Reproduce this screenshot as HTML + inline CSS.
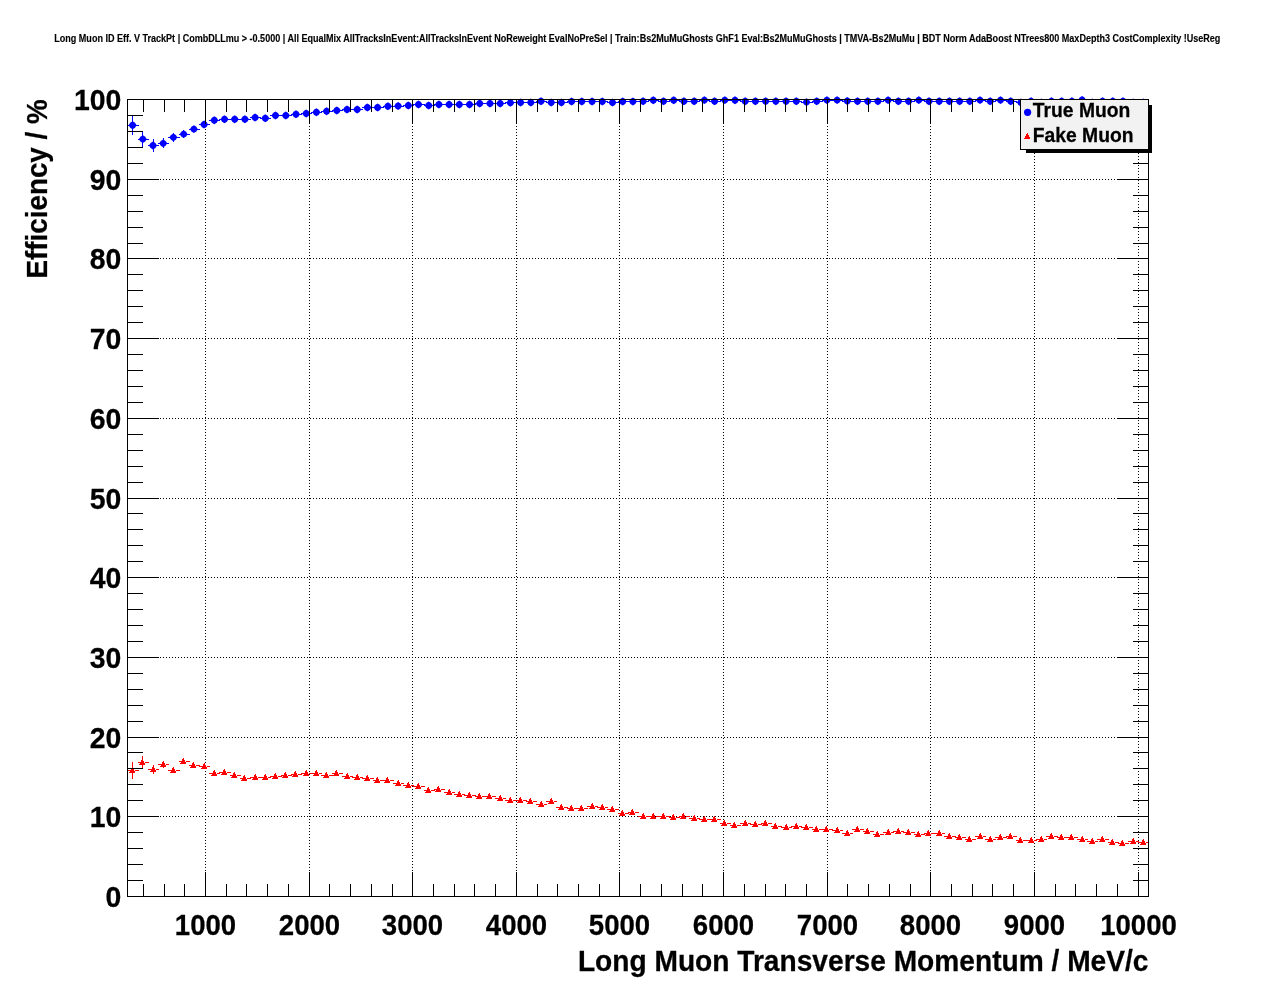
<!DOCTYPE html>
<html lang="en"><head><meta charset="utf-8"><title>Long Muon ID Eff. V TrackPt</title>
<style>
html,body{margin:0;padding:0;background:#fff;}
body{width:1276px;height:996px;overflow:hidden;}
svg{display:block;font-family:"Liberation Sans",sans-serif;font-weight:bold;fill:#000;}
text{stroke:#000;stroke-width:0.25px;}
.top{stroke-width:0.12px;}
.ax{stroke:#000;stroke-width:1;shape-rendering:crispEdges;fill:none;}
.gr{stroke:#000;stroke-width:1;stroke-dasharray:1 2;shape-rendering:crispEdges;fill:none;}
.be{stroke:#00f;stroke-width:1;shape-rendering:crispEdges;}
.re{stroke:#f00;stroke-width:1;shape-rendering:crispEdges;}
.bm{fill:#00f;}
.rm{fill:#f00;}
.lab{font-size:27.6px;}
.laby{font-size:28.4px;}
.ttl{font-size:28.15px;}
.ttl2{font-size:27.8px;}
.leg{font-size:19.3px;}
.top{font-size:9.02px;}
</style></head><body>
<svg width="1276" height="996" viewBox="0 0 1276 996">
<rect x="0" y="0" width="1276" height="996" fill="#fff"/>
<text class="top" transform="translate(54.3,42.1) scale(1,1.14)" textLength="1166" lengthAdjust="spacingAndGlyphs">Long Muon ID Eff. V TrackPt | CombDLLmu &gt; -0.5000 | All EqualMix AllTracksInEvent:AllTracksInEvent NoReweight EvalNoPreSel | Train:Bs2MuMuGhosts GhF1 Eval:Bs2MuMuGhosts | TMVA-Bs2MuMu | BDT Norm AdaBoost NTrees800 MaxDepth3 CostComplexity !UseReg</text>
<g class="gr">
<line x1="205.5" y1="99" x2="205.5" y2="897"/>
<line x1="309.5" y1="99" x2="309.5" y2="897"/>
<line x1="412.5" y1="99" x2="412.5" y2="897"/>
<line x1="516.5" y1="99" x2="516.5" y2="897"/>
<line x1="619.5" y1="99" x2="619.5" y2="897"/>
<line x1="723.5" y1="99" x2="723.5" y2="897"/>
<line x1="827.5" y1="99" x2="827.5" y2="897"/>
<line x1="930.5" y1="99" x2="930.5" y2="897"/>
<line x1="1034.5" y1="99" x2="1034.5" y2="897"/>
<line x1="1138.5" y1="99" x2="1138.5" y2="897"/>
<line x1="127" y1="816.5" x2="1149" y2="816.5"/>
<line x1="127" y1="737.5" x2="1149" y2="737.5"/>
<line x1="127" y1="657.5" x2="1149" y2="657.5"/>
<line x1="127" y1="577.5" x2="1149" y2="577.5"/>
<line x1="127" y1="498.5" x2="1149" y2="498.5"/>
<line x1="127" y1="418.5" x2="1149" y2="418.5"/>
<line x1="127" y1="338.5" x2="1149" y2="338.5"/>
<line x1="127" y1="258.5" x2="1149" y2="258.5"/>
<line x1="127" y1="179.5" x2="1149" y2="179.5"/>
</g>
<g class="be">
<line x1="128" y1="125.5" x2="139" y2="125.5"/>
<line x1="132.5" y1="116" x2="132.5" y2="135"/>
<line x1="138" y1="139.5" x2="149" y2="139.5"/>
<line x1="142.5" y1="131" x2="142.5" y2="147"/>
<line x1="148" y1="145.5" x2="159" y2="145.5"/>
<line x1="153.5" y1="139" x2="153.5" y2="152"/>
<line x1="158" y1="143.5" x2="169" y2="143.5"/>
<line x1="163.5" y1="138" x2="163.5" y2="148"/>
<line x1="168" y1="137.5" x2="180" y2="137.5"/>
<line x1="173.5" y1="133" x2="173.5" y2="142"/>
<line x1="179" y1="134.5" x2="190" y2="134.5"/>
<line x1="183.5" y1="130" x2="183.5" y2="138"/>
<line x1="189" y1="129.5" x2="200" y2="129.5"/>
<line x1="199" y1="124.5" x2="210" y2="124.5"/>
<line x1="209" y1="120.5" x2="220" y2="120.5"/>
<line x1="219" y1="119.5" x2="231" y2="119.5"/>
<line x1="230" y1="119.5" x2="241" y2="119.5"/>
<line x1="240" y1="119.5" x2="251" y2="119.5"/>
<line x1="250" y1="117.5" x2="261" y2="117.5"/>
<line x1="260" y1="118.5" x2="271" y2="118.5"/>
<line x1="270" y1="115.5" x2="282" y2="115.5"/>
<line x1="281" y1="115.5" x2="292" y2="115.5"/>
<line x1="291" y1="114.5" x2="302" y2="114.5"/>
<line x1="301" y1="113.5" x2="312" y2="113.5"/>
<line x1="311" y1="112.5" x2="322" y2="112.5"/>
<line x1="321" y1="111.5" x2="333" y2="111.5"/>
<line x1="332" y1="110.5" x2="343" y2="110.5"/>
<line x1="342" y1="109.5" x2="353" y2="109.5"/>
<line x1="352" y1="109.5" x2="363" y2="109.5"/>
<line x1="362" y1="107.5" x2="374" y2="107.5"/>
<line x1="373" y1="107.5" x2="384" y2="107.5"/>
<line x1="383" y1="106.5" x2="394" y2="106.5"/>
<line x1="393" y1="106.5" x2="404" y2="106.5"/>
<line x1="403" y1="105.5" x2="414" y2="105.5"/>
<line x1="413" y1="104.5" x2="425" y2="104.5"/>
<line x1="424" y1="105.5" x2="435" y2="105.5"/>
<line x1="434" y1="104.5" x2="445" y2="104.5"/>
<line x1="444" y1="104.5" x2="455" y2="104.5"/>
<line x1="454" y1="104.5" x2="465" y2="104.5"/>
<line x1="464" y1="104.5" x2="476" y2="104.5"/>
<line x1="475" y1="103.5" x2="486" y2="103.5"/>
<line x1="485" y1="103.5" x2="496" y2="103.5"/>
<line x1="495" y1="103.5" x2="506" y2="103.5"/>
<line x1="505" y1="102.5" x2="516" y2="102.5"/>
<line x1="515" y1="102.5" x2="527" y2="102.5"/>
<line x1="526" y1="102.5" x2="537" y2="102.5"/>
<line x1="536" y1="101.5" x2="547" y2="101.5"/>
<line x1="546" y1="102.5" x2="557" y2="102.5"/>
<line x1="556" y1="102.5" x2="568" y2="102.5"/>
<line x1="567" y1="101.5" x2="578" y2="101.5"/>
<line x1="577" y1="101.5" x2="588" y2="101.5"/>
<line x1="587" y1="101.5" x2="598" y2="101.5"/>
<line x1="597" y1="101.5" x2="608" y2="101.5"/>
<line x1="607" y1="102.5" x2="619" y2="102.5"/>
<line x1="618" y1="101.5" x2="629" y2="101.5"/>
<line x1="628" y1="101.5" x2="639" y2="101.5"/>
<line x1="638" y1="101.5" x2="649" y2="101.5"/>
<line x1="648" y1="100.5" x2="659" y2="100.5"/>
<line x1="658" y1="101.5" x2="670" y2="101.5"/>
<line x1="669" y1="100.5" x2="680" y2="100.5"/>
<line x1="679" y1="101.5" x2="690" y2="101.5"/>
<line x1="689" y1="101.5" x2="700" y2="101.5"/>
<line x1="699" y1="100.5" x2="710" y2="100.5"/>
<line x1="709" y1="101.5" x2="721" y2="101.5"/>
<line x1="720" y1="100.5" x2="731" y2="100.5"/>
<line x1="730" y1="100.5" x2="741" y2="100.5"/>
<line x1="740" y1="101.5" x2="751" y2="101.5"/>
<line x1="750" y1="101.5" x2="762" y2="101.5"/>
<line x1="761" y1="101.5" x2="772" y2="101.5"/>
<line x1="771" y1="101.5" x2="782" y2="101.5"/>
<line x1="781" y1="101.5" x2="792" y2="101.5"/>
<line x1="791" y1="101.5" x2="802" y2="101.5"/>
<line x1="801" y1="102.5" x2="813" y2="102.5"/>
<line x1="812" y1="101.5" x2="823" y2="101.5"/>
<line x1="822" y1="100.5" x2="833" y2="100.5"/>
<line x1="832" y1="100.5" x2="843" y2="100.5"/>
<line x1="842" y1="101.5" x2="853" y2="101.5"/>
<line x1="852" y1="101.5" x2="864" y2="101.5"/>
<line x1="863" y1="101.5" x2="874" y2="101.5"/>
<line x1="873" y1="101.5" x2="884" y2="101.5"/>
<line x1="883" y1="100.5" x2="894" y2="100.5"/>
<line x1="893" y1="101.5" x2="904" y2="101.5"/>
<line x1="903" y1="101.5" x2="915" y2="101.5"/>
<line x1="914" y1="100.5" x2="925" y2="100.5"/>
<line x1="924" y1="101.5" x2="935" y2="101.5"/>
<line x1="934" y1="101.5" x2="945" y2="101.5"/>
<line x1="944" y1="101.5" x2="956" y2="101.5"/>
<line x1="955" y1="101.5" x2="966" y2="101.5"/>
<line x1="965" y1="101.5" x2="976" y2="101.5"/>
<line x1="975" y1="100.5" x2="986" y2="100.5"/>
<line x1="985" y1="101.5" x2="996" y2="101.5"/>
<line x1="995" y1="100.5" x2="1007" y2="100.5"/>
<line x1="1006" y1="101.5" x2="1017" y2="101.5"/>
<line x1="1016" y1="102.5" x2="1027" y2="102.5"/>
<line x1="1026" y1="101.5" x2="1037" y2="101.5"/>
<line x1="1036" y1="102.5" x2="1047" y2="102.5"/>
<line x1="1046" y1="101.5" x2="1058" y2="101.5"/>
<line x1="1057" y1="101.5" x2="1068" y2="101.5"/>
<line x1="1067" y1="101.5" x2="1078" y2="101.5"/>
<line x1="1077" y1="100.5" x2="1088" y2="100.5"/>
<line x1="1087" y1="102.5" x2="1098" y2="102.5"/>
<line x1="1097" y1="101.5" x2="1109" y2="101.5"/>
<line x1="1108" y1="101.5" x2="1119" y2="101.5"/>
<line x1="1118" y1="101.5" x2="1129" y2="101.5"/>
<line x1="1128" y1="102.5" x2="1139" y2="102.5"/>
<line x1="1138" y1="102.5" x2="1149" y2="102.5"/>
</g>
<path class="bm" d="M132.6 121.3l2.45 1.50 1.50 2.45 -1.50 2.45 -2.45 1.50 -2.45 -1.50 -1.50 -2.45 1.50 -2.45zM142.8 135.2l2.45 1.50 1.50 2.45 -1.50 2.45 -2.45 1.50 -2.45 -1.50 -1.50 -2.45 1.50 -2.45zM153.0 141.5l2.45 1.50 1.50 2.45 -1.50 2.45 -2.45 1.50 -2.45 -1.50 -1.50 -2.45 1.50 -2.45zM163.2 139.4l2.45 1.50 1.50 2.45 -1.50 2.45 -2.45 1.50 -2.45 -1.50 -1.50 -2.45 1.50 -2.45zM173.4 133.4l2.45 1.50 1.50 2.45 -1.50 2.45 -2.45 1.50 -2.45 -1.50 -1.50 -2.45 1.50 -2.45zM183.7 130.2l2.45 1.50 1.50 2.45 -1.50 2.45 -2.45 1.50 -2.45 -1.50 -1.50 -2.45 1.50 -2.45zM193.9 125.2l2.45 1.50 1.50 2.45 -1.50 2.45 -2.45 1.50 -2.45 -1.50 -1.50 -2.45 1.50 -2.45zM204.1 120.6l2.45 1.50 1.50 2.45 -1.50 2.45 -2.45 1.50 -2.45 -1.50 -1.50 -2.45 1.50 -2.45zM214.3 116.3l2.45 1.50 1.50 2.45 -1.50 2.45 -2.45 1.50 -2.45 -1.50 -1.50 -2.45 1.50 -2.45zM224.5 115.3l2.45 1.50 1.50 2.45 -1.50 2.45 -2.45 1.50 -2.45 -1.50 -1.50 -2.45 1.50 -2.45zM234.7 115.3l2.45 1.50 1.50 2.45 -1.50 2.45 -2.45 1.50 -2.45 -1.50 -1.50 -2.45 1.50 -2.45zM244.9 115.3l2.45 1.50 1.50 2.45 -1.50 2.45 -2.45 1.50 -2.45 -1.50 -1.50 -2.45 1.50 -2.45zM255.1 113.6l2.45 1.50 1.50 2.45 -1.50 2.45 -2.45 1.50 -2.45 -1.50 -1.50 -2.45 1.50 -2.45zM265.3 114.3l2.45 1.50 1.50 2.45 -1.50 2.45 -2.45 1.50 -2.45 -1.50 -1.50 -2.45 1.50 -2.45zM275.5 111.5l2.45 1.50 1.50 2.45 -1.50 2.45 -2.45 1.50 -2.45 -1.50 -1.50 -2.45 1.50 -2.45zM285.8 111.5l2.45 1.50 1.50 2.45 -1.50 2.45 -2.45 1.50 -2.45 -1.50 -1.50 -2.45 1.50 -2.45zM296.0 110.3l2.45 1.50 1.50 2.45 -1.50 2.45 -2.45 1.50 -2.45 -1.50 -1.50 -2.45 1.50 -2.45zM306.2 109.5l2.45 1.50 1.50 2.45 -1.50 2.45 -2.45 1.50 -2.45 -1.50 -1.50 -2.45 1.50 -2.45zM316.4 108.3l2.45 1.50 1.50 2.45 -1.50 2.45 -2.45 1.50 -2.45 -1.50 -1.50 -2.45 1.50 -2.45zM326.6 107.3l2.45 1.50 1.50 2.45 -1.50 2.45 -2.45 1.50 -2.45 -1.50 -1.50 -2.45 1.50 -2.45zM336.8 106.5l2.45 1.50 1.50 2.45 -1.50 2.45 -2.45 1.50 -2.45 -1.50 -1.50 -2.45 1.50 -2.45zM347.0 105.5l2.45 1.50 1.50 2.45 -1.50 2.45 -2.45 1.50 -2.45 -1.50 -1.50 -2.45 1.50 -2.45zM357.2 105.5l2.45 1.50 1.50 2.45 -1.50 2.45 -2.45 1.50 -2.45 -1.50 -1.50 -2.45 1.50 -2.45zM367.4 103.5l2.45 1.50 1.50 2.45 -1.50 2.45 -2.45 1.50 -2.45 -1.50 -1.50 -2.45 1.50 -2.45zM377.6 103.5l2.45 1.50 1.50 2.45 -1.50 2.45 -2.45 1.50 -2.45 -1.50 -1.50 -2.45 1.50 -2.45zM387.9 102.3l2.45 1.50 1.50 2.45 -1.50 2.45 -2.45 1.50 -2.45 -1.50 -1.50 -2.45 1.50 -2.45zM398.1 102.1l2.45 1.50 1.50 2.45 -1.50 2.45 -2.45 1.50 -2.45 -1.50 -1.50 -2.45 1.50 -2.45zM408.3 101.5l2.45 1.50 1.50 2.45 -1.50 2.45 -2.45 1.50 -2.45 -1.50 -1.50 -2.45 1.50 -2.45zM418.5 100.6l2.45 1.50 1.50 2.45 -1.50 2.45 -2.45 1.50 -2.45 -1.50 -1.50 -2.45 1.50 -2.45zM428.7 101.5l2.45 1.50 1.50 2.45 -1.50 2.45 -2.45 1.50 -2.45 -1.50 -1.50 -2.45 1.50 -2.45zM438.9 100.5l2.45 1.50 1.50 2.45 -1.50 2.45 -2.45 1.50 -2.45 -1.50 -1.50 -2.45 1.50 -2.45zM449.1 100.5l2.45 1.50 1.50 2.45 -1.50 2.45 -2.45 1.50 -2.45 -1.50 -1.50 -2.45 1.50 -2.45zM459.3 100.5l2.45 1.50 1.50 2.45 -1.50 2.45 -2.45 1.50 -2.45 -1.50 -1.50 -2.45 1.50 -2.45zM469.5 100.5l2.45 1.50 1.50 2.45 -1.50 2.45 -2.45 1.50 -2.45 -1.50 -1.50 -2.45 1.50 -2.45zM479.7 99.6l2.45 1.50 1.50 2.45 -1.50 2.45 -2.45 1.50 -2.45 -1.50 -1.50 -2.45 1.50 -2.45zM490.0 99.6l2.45 1.50 1.50 2.45 -1.50 2.45 -2.45 1.50 -2.45 -1.50 -1.50 -2.45 1.50 -2.45zM500.2 99.5l2.45 1.50 1.50 2.45 -1.50 2.45 -2.45 1.50 -2.45 -1.50 -1.50 -2.45 1.50 -2.45zM510.4 98.8l2.45 1.50 1.50 2.45 -1.50 2.45 -2.45 1.50 -2.45 -1.50 -1.50 -2.45 1.50 -2.45zM520.6 98.5l2.45 1.50 1.50 2.45 -1.50 2.45 -2.45 1.50 -2.45 -1.50 -1.50 -2.45 1.50 -2.45zM530.8 98.5l2.45 1.50 1.50 2.45 -1.50 2.45 -2.45 1.50 -2.45 -1.50 -1.50 -2.45 1.50 -2.45zM541.0 97.3l2.45 1.50 1.50 2.45 -1.50 2.45 -2.45 1.50 -2.45 -1.50 -1.50 -2.45 1.50 -2.45zM551.2 98.5l2.45 1.50 1.50 2.45 -1.50 2.45 -2.45 1.50 -2.45 -1.50 -1.50 -2.45 1.50 -2.45zM561.4 98.5l2.45 1.50 1.50 2.45 -1.50 2.45 -2.45 1.50 -2.45 -1.50 -1.50 -2.45 1.50 -2.45zM571.6 97.5l2.45 1.50 1.50 2.45 -1.50 2.45 -2.45 1.50 -2.45 -1.50 -1.50 -2.45 1.50 -2.45zM581.8 97.5l2.45 1.50 1.50 2.45 -1.50 2.45 -2.45 1.50 -2.45 -1.50 -1.50 -2.45 1.50 -2.45zM592.1 97.5l2.45 1.50 1.50 2.45 -1.50 2.45 -2.45 1.50 -2.45 -1.50 -1.50 -2.45 1.50 -2.45zM602.3 97.5l2.45 1.50 1.50 2.45 -1.50 2.45 -2.45 1.50 -2.45 -1.50 -1.50 -2.45 1.50 -2.45zM612.5 98.5l2.45 1.50 1.50 2.45 -1.50 2.45 -2.45 1.50 -2.45 -1.50 -1.50 -2.45 1.50 -2.45zM622.7 97.5l2.45 1.50 1.50 2.45 -1.50 2.45 -2.45 1.50 -2.45 -1.50 -1.50 -2.45 1.50 -2.45zM632.9 97.5l2.45 1.50 1.50 2.45 -1.50 2.45 -2.45 1.50 -2.45 -1.50 -1.50 -2.45 1.50 -2.45zM643.1 97.3l2.45 1.50 1.50 2.45 -1.50 2.45 -2.45 1.50 -2.45 -1.50 -1.50 -2.45 1.50 -2.45zM653.3 96.3l2.45 1.50 1.50 2.45 -1.50 2.45 -2.45 1.50 -2.45 -1.50 -1.50 -2.45 1.50 -2.45zM663.5 97.3l2.45 1.50 1.50 2.45 -1.50 2.45 -2.45 1.50 -2.45 -1.50 -1.50 -2.45 1.50 -2.45zM673.7 96.3l2.45 1.50 1.50 2.45 -1.50 2.45 -2.45 1.50 -2.45 -1.50 -1.50 -2.45 1.50 -2.45zM683.9 97.3l2.45 1.50 1.50 2.45 -1.50 2.45 -2.45 1.50 -2.45 -1.50 -1.50 -2.45 1.50 -2.45zM694.2 97.3l2.45 1.50 1.50 2.45 -1.50 2.45 -2.45 1.50 -2.45 -1.50 -1.50 -2.45 1.50 -2.45zM704.4 96.2l2.45 1.50 1.50 2.45 -1.50 2.45 -2.45 1.50 -2.45 -1.50 -1.50 -2.45 1.50 -2.45zM714.6 97.3l2.45 1.50 1.50 2.45 -1.50 2.45 -2.45 1.50 -2.45 -1.50 -1.50 -2.45 1.50 -2.45zM724.8 96.2l2.45 1.50 1.50 2.45 -1.50 2.45 -2.45 1.50 -2.45 -1.50 -1.50 -2.45 1.50 -2.45zM735.0 96.3l2.45 1.50 1.50 2.45 -1.50 2.45 -2.45 1.50 -2.45 -1.50 -1.50 -2.45 1.50 -2.45zM745.2 97.3l2.45 1.50 1.50 2.45 -1.50 2.45 -2.45 1.50 -2.45 -1.50 -1.50 -2.45 1.50 -2.45zM755.4 97.3l2.45 1.50 1.50 2.45 -1.50 2.45 -2.45 1.50 -2.45 -1.50 -1.50 -2.45 1.50 -2.45zM765.6 97.3l2.45 1.50 1.50 2.45 -1.50 2.45 -2.45 1.50 -2.45 -1.50 -1.50 -2.45 1.50 -2.45zM775.8 97.3l2.45 1.50 1.50 2.45 -1.50 2.45 -2.45 1.50 -2.45 -1.50 -1.50 -2.45 1.50 -2.45zM786.0 97.3l2.45 1.50 1.50 2.45 -1.50 2.45 -2.45 1.50 -2.45 -1.50 -1.50 -2.45 1.50 -2.45zM796.3 97.3l2.45 1.50 1.50 2.45 -1.50 2.45 -2.45 1.50 -2.45 -1.50 -1.50 -2.45 1.50 -2.45zM806.5 98.2l2.45 1.50 1.50 2.45 -1.50 2.45 -2.45 1.50 -2.45 -1.50 -1.50 -2.45 1.50 -2.45zM816.7 97.3l2.45 1.50 1.50 2.45 -1.50 2.45 -2.45 1.50 -2.45 -1.50 -1.50 -2.45 1.50 -2.45zM826.9 96.2l2.45 1.50 1.50 2.45 -1.50 2.45 -2.45 1.50 -2.45 -1.50 -1.50 -2.45 1.50 -2.45zM837.1 96.2l2.45 1.50 1.50 2.45 -1.50 2.45 -2.45 1.50 -2.45 -1.50 -1.50 -2.45 1.50 -2.45zM847.3 97.0l2.45 1.50 1.50 2.45 -1.50 2.45 -2.45 1.50 -2.45 -1.50 -1.50 -2.45 1.50 -2.45zM857.5 97.3l2.45 1.50 1.50 2.45 -1.50 2.45 -2.45 1.50 -2.45 -1.50 -1.50 -2.45 1.50 -2.45zM867.7 97.3l2.45 1.50 1.50 2.45 -1.50 2.45 -2.45 1.50 -2.45 -1.50 -1.50 -2.45 1.50 -2.45zM877.9 97.3l2.45 1.50 1.50 2.45 -1.50 2.45 -2.45 1.50 -2.45 -1.50 -1.50 -2.45 1.50 -2.45zM888.1 96.2l2.45 1.50 1.50 2.45 -1.50 2.45 -2.45 1.50 -2.45 -1.50 -1.50 -2.45 1.50 -2.45zM898.4 97.3l2.45 1.50 1.50 2.45 -1.50 2.45 -2.45 1.50 -2.45 -1.50 -1.50 -2.45 1.50 -2.45zM908.6 97.3l2.45 1.50 1.50 2.45 -1.50 2.45 -2.45 1.50 -2.45 -1.50 -1.50 -2.45 1.50 -2.45zM918.8 96.2l2.45 1.50 1.50 2.45 -1.50 2.45 -2.45 1.50 -2.45 -1.50 -1.50 -2.45 1.50 -2.45zM929.0 97.3l2.45 1.50 1.50 2.45 -1.50 2.45 -2.45 1.50 -2.45 -1.50 -1.50 -2.45 1.50 -2.45zM939.2 97.3l2.45 1.50 1.50 2.45 -1.50 2.45 -2.45 1.50 -2.45 -1.50 -1.50 -2.45 1.50 -2.45zM949.4 97.3l2.45 1.50 1.50 2.45 -1.50 2.45 -2.45 1.50 -2.45 -1.50 -1.50 -2.45 1.50 -2.45zM959.6 97.3l2.45 1.50 1.50 2.45 -1.50 2.45 -2.45 1.50 -2.45 -1.50 -1.50 -2.45 1.50 -2.45zM969.8 97.3l2.45 1.50 1.50 2.45 -1.50 2.45 -2.45 1.50 -2.45 -1.50 -1.50 -2.45 1.50 -2.45zM980.0 96.2l2.45 1.50 1.50 2.45 -1.50 2.45 -2.45 1.50 -2.45 -1.50 -1.50 -2.45 1.50 -2.45zM990.2 97.3l2.45 1.50 1.50 2.45 -1.50 2.45 -2.45 1.50 -2.45 -1.50 -1.50 -2.45 1.50 -2.45zM1000.5 96.2l2.45 1.50 1.50 2.45 -1.50 2.45 -2.45 1.50 -2.45 -1.50 -1.50 -2.45 1.50 -2.45zM1010.7 97.3l2.45 1.50 1.50 2.45 -1.50 2.45 -2.45 1.50 -2.45 -1.50 -1.50 -2.45 1.50 -2.45zM1020.9 98.5l2.45 1.50 1.50 2.45 -1.50 2.45 -2.45 1.50 -2.45 -1.50 -1.50 -2.45 1.50 -2.45zM1031.1 97.3l2.45 1.50 1.50 2.45 -1.50 2.45 -2.45 1.50 -2.45 -1.50 -1.50 -2.45 1.50 -2.45zM1041.3 98.6l2.45 1.50 1.50 2.45 -1.50 2.45 -2.45 1.50 -2.45 -1.50 -1.50 -2.45 1.50 -2.45zM1051.5 97.3l2.45 1.50 1.50 2.45 -1.50 2.45 -2.45 1.50 -2.45 -1.50 -1.50 -2.45 1.50 -2.45zM1061.7 97.3l2.45 1.50 1.50 2.45 -1.50 2.45 -2.45 1.50 -2.45 -1.50 -1.50 -2.45 1.50 -2.45zM1071.9 97.3l2.45 1.50 1.50 2.45 -1.50 2.45 -2.45 1.50 -2.45 -1.50 -1.50 -2.45 1.50 -2.45zM1082.1 96.1l2.45 1.50 1.50 2.45 -1.50 2.45 -2.45 1.50 -2.45 -1.50 -1.50 -2.45 1.50 -2.45zM1092.3 98.6l2.45 1.50 1.50 2.45 -1.50 2.45 -2.45 1.50 -2.45 -1.50 -1.50 -2.45 1.50 -2.45zM1102.6 97.2l2.45 1.50 1.50 2.45 -1.50 2.45 -2.45 1.50 -2.45 -1.50 -1.50 -2.45 1.50 -2.45zM1112.8 97.3l2.45 1.50 1.50 2.45 -1.50 2.45 -2.45 1.50 -2.45 -1.50 -1.50 -2.45 1.50 -2.45zM1123.0 97.3l2.45 1.50 1.50 2.45 -1.50 2.45 -2.45 1.50 -2.45 -1.50 -1.50 -2.45 1.50 -2.45zM1133.2 98.6l2.45 1.50 1.50 2.45 -1.50 2.45 -2.45 1.50 -2.45 -1.50 -1.50 -2.45 1.50 -2.45zM1143.4 98.6l2.45 1.50 1.50 2.45 -1.50 2.45 -2.45 1.50 -2.45 -1.50 -1.50 -2.45 1.50 -2.45z"/>
<g class="re">
<path d="M128 770.5H132M135 770.5H139"/>
<line x1="132.5" y1="762" x2="132.5" y2="779"/>
<path d="M138 762.5H142M145 762.5H149"/>
<line x1="142.5" y1="756" x2="142.5" y2="768"/>
<path d="M148 769.5H153M156 769.5H159"/>
<line x1="153.5" y1="765" x2="153.5" y2="774"/>
<path d="M158 764.5H163M166 764.5H169"/>
<line x1="163.5" y1="761" x2="163.5" y2="768"/>
<path d="M168 770.5H173M176 770.5H180"/>
<path d="M179 761.5H183M186 761.5H190"/>
<path d="M189 765.5H193M196 765.5H200"/>
<path d="M199 766.5H204M207 766.5H210"/>
<path d="M209 773.5H214M217 773.5H220"/>
<path d="M219 772.5H224M227 772.5H231"/>
<path d="M230 775.5H234M237 775.5H241"/>
<path d="M240 778.5H244M247 778.5H251"/>
<path d="M250 777.5H255M258 777.5H261"/>
<path d="M260 777.5H265M268 777.5H271"/>
<path d="M270 776.5H275M278 776.5H282"/>
<path d="M281 775.5H285M288 775.5H292"/>
<path d="M291 774.5H295M298 774.5H302"/>
<path d="M301 773.5H306M309 773.5H312"/>
<path d="M311 773.5H316M319 773.5H322"/>
<path d="M321 775.5H326M329 775.5H333"/>
<path d="M332 773.5H336M339 773.5H343"/>
<path d="M342 776.5H347M350 776.5H353"/>
<path d="M352 777.5H357M360 777.5H363"/>
<path d="M362 778.5H367M370 778.5H374"/>
<path d="M373 780.5H377M380 780.5H384"/>
<path d="M383 780.5H387M390 780.5H394"/>
<path d="M393 783.5H398M401 783.5H404"/>
<path d="M403 785.5H408M411 785.5H414"/>
<path d="M413 786.5H418M421 786.5H425"/>
<path d="M424 790.5H428M431 790.5H435"/>
<path d="M434 789.5H438M441 789.5H445"/>
<path d="M444 792.5H449M452 792.5H455"/>
<path d="M454 794.5H459M462 794.5H465"/>
<path d="M464 795.5H469M472 795.5H476"/>
<path d="M475 796.5H479M482 796.5H486"/>
<path d="M485 796.5H489M492 796.5H496"/>
<path d="M495 798.5H500M503 798.5H506"/>
<path d="M505 800.5H510M513 800.5H516"/>
<path d="M515 800.5H520M523 800.5H527"/>
<path d="M526 801.5H530M533 801.5H537"/>
<path d="M536 804.5H541M544 804.5H547"/>
<path d="M546 801.5H551M554 801.5H557"/>
<path d="M556 807.5H561M564 807.5H568"/>
<path d="M567 808.5H571M574 808.5H578"/>
<path d="M577 808.5H581M584 808.5H588"/>
<path d="M587 806.5H592M595 806.5H598"/>
<path d="M597 807.5H602M605 807.5H608"/>
<path d="M607 809.5H612M615 809.5H619"/>
<path d="M618 813.5H622M625 813.5H629"/>
<path d="M628 812.5H632M635 812.5H639"/>
<path d="M638 816.5H643M646 816.5H649"/>
<path d="M648 816.5H653M656 816.5H659"/>
<path d="M658 816.5H663M666 816.5H670"/>
<path d="M669 817.5H673M676 817.5H680"/>
<path d="M679 816.5H683M686 816.5H690"/>
<path d="M689 818.5H694M697 818.5H700"/>
<path d="M699 819.5H704M707 819.5H710"/>
<path d="M709 819.5H714M717 819.5H721"/>
<path d="M720 823.5H724M727 823.5H731"/>
<path d="M730 825.5H734M737 825.5H741"/>
<path d="M740 823.5H745M748 823.5H751"/>
<path d="M750 824.5H755M758 824.5H762"/>
<path d="M761 823.5H765M768 823.5H772"/>
<path d="M771 826.5H775M778 826.5H782"/>
<path d="M781 827.5H786M789 827.5H792"/>
<path d="M791 826.5H796M799 826.5H802"/>
<path d="M801 827.5H806M809 827.5H813"/>
<path d="M812 829.5H816M819 829.5H823"/>
<path d="M822 829.5H826M829 829.5H833"/>
<path d="M832 830.5H837M840 830.5H843"/>
<path d="M842 833.5H847M850 833.5H853"/>
<path d="M852 829.5H857M860 829.5H864"/>
<path d="M863 831.5H867M870 831.5H874"/>
<path d="M873 834.5H877M880 834.5H884"/>
<path d="M883 832.5H888M891 832.5H894"/>
<path d="M893 831.5H898M901 831.5H904"/>
<path d="M903 832.5H908M911 832.5H915"/>
<path d="M914 834.5H918M921 834.5H925"/>
<path d="M924 833.5H928M931 833.5H935"/>
<path d="M934 833.5H939M942 833.5H945"/>
<path d="M944 836.5H949M952 836.5H956"/>
<path d="M955 837.5H959M962 837.5H966"/>
<path d="M965 839.5H969M972 839.5H976"/>
<path d="M975 836.5H980M983 836.5H986"/>
<path d="M985 839.5H990M993 839.5H996"/>
<path d="M995 837.5H1000M1003 837.5H1007"/>
<path d="M1006 836.5H1010M1013 836.5H1017"/>
<path d="M1016 840.5H1020M1023 840.5H1027"/>
<path d="M1026 840.5H1031M1034 840.5H1037"/>
<path d="M1036 839.5H1041M1044 839.5H1047"/>
<path d="M1046 836.5H1051M1054 836.5H1058"/>
<path d="M1057 837.5H1061M1064 837.5H1068"/>
<path d="M1067 837.5H1071M1074 837.5H1078"/>
<path d="M1077 839.5H1082M1085 839.5H1088"/>
<path d="M1087 841.5H1092M1095 841.5H1098"/>
<path d="M1097 839.5H1102M1105 839.5H1109"/>
<path d="M1108 842.5H1112M1115 842.5H1119"/>
<path d="M1118 843.5H1122M1125 843.5H1129"/>
<path d="M1128 841.5H1133M1136 841.5H1139"/>
<path d="M1138 842.5H1143M1146 842.5H1149"/>
</g>
<path class="rm" shape-rendering="crispEdges" d="M132 767h1v2h1v2h1v2h-6v-1h1v-2h1v-2h1zM142 759h1v2h1v2h1v2h-6v-1h1v-2h1v-2h1zM153 766h1v2h1v2h1v2h-6v-1h1v-2h1v-2h1zM163 761h1v2h1v2h1v2h-6v-1h1v-2h1v-2h1zM173 767h1v2h1v2h1v2h-6v-1h1v-2h1v-2h1zM183 758h1v2h1v2h1v2h-6v-1h1v-2h1v-2h1zM193 762h1v2h1v2h1v2h-6v-1h1v-2h1v-2h1zM204 763h1v2h1v2h1v2h-6v-1h1v-2h1v-2h1zM214 770h1v2h1v2h1v2h-6v-1h1v-2h1v-2h1zM224 769h1v2h1v2h1v2h-6v-1h1v-2h1v-2h1zM234 772h1v2h1v2h1v2h-6v-1h1v-2h1v-2h1zM244 775h1v2h1v2h1v2h-6v-1h1v-2h1v-2h1zM255 774h1v2h1v2h1v2h-6v-1h1v-2h1v-2h1zM265 774h1v2h1v2h1v2h-6v-1h1v-2h1v-2h1zM275 773h1v2h1v2h1v2h-6v-1h1v-2h1v-2h1zM285 772h1v2h1v2h1v2h-6v-1h1v-2h1v-2h1zM295 771h1v2h1v2h1v2h-6v-1h1v-2h1v-2h1zM306 770h1v2h1v2h1v2h-6v-1h1v-2h1v-2h1zM316 770h1v2h1v2h1v2h-6v-1h1v-2h1v-2h1zM326 772h1v2h1v2h1v2h-6v-1h1v-2h1v-2h1zM336 770h1v2h1v2h1v2h-6v-1h1v-2h1v-2h1zM347 773h1v2h1v2h1v2h-6v-1h1v-2h1v-2h1zM357 774h1v2h1v2h1v2h-6v-1h1v-2h1v-2h1zM367 775h1v2h1v2h1v2h-6v-1h1v-2h1v-2h1zM377 777h1v2h1v2h1v2h-6v-1h1v-2h1v-2h1zM387 777h1v2h1v2h1v2h-6v-1h1v-2h1v-2h1zM398 780h1v2h1v2h1v2h-6v-1h1v-2h1v-2h1zM408 782h1v2h1v2h1v2h-6v-1h1v-2h1v-2h1zM418 783h1v2h1v2h1v2h-6v-1h1v-2h1v-2h1zM428 787h1v2h1v2h1v2h-6v-1h1v-2h1v-2h1zM438 786h1v2h1v2h1v2h-6v-1h1v-2h1v-2h1zM449 789h1v2h1v2h1v2h-6v-1h1v-2h1v-2h1zM459 791h1v2h1v2h1v2h-6v-1h1v-2h1v-2h1zM469 792h1v2h1v2h1v2h-6v-1h1v-2h1v-2h1zM479 793h1v2h1v2h1v2h-6v-1h1v-2h1v-2h1zM489 793h1v2h1v2h1v2h-6v-1h1v-2h1v-2h1zM500 795h1v2h1v2h1v2h-6v-1h1v-2h1v-2h1zM510 797h1v2h1v2h1v2h-6v-1h1v-2h1v-2h1zM520 797h1v2h1v2h1v2h-6v-1h1v-2h1v-2h1zM530 798h1v2h1v2h1v2h-6v-1h1v-2h1v-2h1zM541 801h1v2h1v2h1v2h-6v-1h1v-2h1v-2h1zM551 798h1v2h1v2h1v2h-6v-1h1v-2h1v-2h1zM561 804h1v2h1v2h1v2h-6v-1h1v-2h1v-2h1zM571 805h1v2h1v2h1v2h-6v-1h1v-2h1v-2h1zM581 805h1v2h1v2h1v2h-6v-1h1v-2h1v-2h1zM592 803h1v2h1v2h1v2h-6v-1h1v-2h1v-2h1zM602 804h1v2h1v2h1v2h-6v-1h1v-2h1v-2h1zM612 806h1v2h1v2h1v2h-6v-1h1v-2h1v-2h1zM622 810h1v2h1v2h1v2h-6v-1h1v-2h1v-2h1zM632 809h1v2h1v2h1v2h-6v-1h1v-2h1v-2h1zM643 813h1v2h1v2h1v2h-6v-1h1v-2h1v-2h1zM653 813h1v2h1v2h1v2h-6v-1h1v-2h1v-2h1zM663 813h1v2h1v2h1v2h-6v-1h1v-2h1v-2h1zM673 814h1v2h1v2h1v2h-6v-1h1v-2h1v-2h1zM683 813h1v2h1v2h1v2h-6v-1h1v-2h1v-2h1zM694 815h1v2h1v2h1v2h-6v-1h1v-2h1v-2h1zM704 816h1v2h1v2h1v2h-6v-1h1v-2h1v-2h1zM714 816h1v2h1v2h1v2h-6v-1h1v-2h1v-2h1zM724 820h1v2h1v2h1v2h-6v-1h1v-2h1v-2h1zM734 822h1v2h1v2h1v2h-6v-1h1v-2h1v-2h1zM745 820h1v2h1v2h1v2h-6v-1h1v-2h1v-2h1zM755 821h1v2h1v2h1v2h-6v-1h1v-2h1v-2h1zM765 820h1v2h1v2h1v2h-6v-1h1v-2h1v-2h1zM775 823h1v2h1v2h1v2h-6v-1h1v-2h1v-2h1zM786 824h1v2h1v2h1v2h-6v-1h1v-2h1v-2h1zM796 823h1v2h1v2h1v2h-6v-1h1v-2h1v-2h1zM806 824h1v2h1v2h1v2h-6v-1h1v-2h1v-2h1zM816 826h1v2h1v2h1v2h-6v-1h1v-2h1v-2h1zM826 826h1v2h1v2h1v2h-6v-1h1v-2h1v-2h1zM837 827h1v2h1v2h1v2h-6v-1h1v-2h1v-2h1zM847 830h1v2h1v2h1v2h-6v-1h1v-2h1v-2h1zM857 826h1v2h1v2h1v2h-6v-1h1v-2h1v-2h1zM867 828h1v2h1v2h1v2h-6v-1h1v-2h1v-2h1zM877 831h1v2h1v2h1v2h-6v-1h1v-2h1v-2h1zM888 829h1v2h1v2h1v2h-6v-1h1v-2h1v-2h1zM898 828h1v2h1v2h1v2h-6v-1h1v-2h1v-2h1zM908 829h1v2h1v2h1v2h-6v-1h1v-2h1v-2h1zM918 831h1v2h1v2h1v2h-6v-1h1v-2h1v-2h1zM928 830h1v2h1v2h1v2h-6v-1h1v-2h1v-2h1zM939 830h1v2h1v2h1v2h-6v-1h1v-2h1v-2h1zM949 833h1v2h1v2h1v2h-6v-1h1v-2h1v-2h1zM959 834h1v2h1v2h1v2h-6v-1h1v-2h1v-2h1zM969 836h1v2h1v2h1v2h-6v-1h1v-2h1v-2h1zM980 833h1v2h1v2h1v2h-6v-1h1v-2h1v-2h1zM990 836h1v2h1v2h1v2h-6v-1h1v-2h1v-2h1zM1000 834h1v2h1v2h1v2h-6v-1h1v-2h1v-2h1zM1010 833h1v2h1v2h1v2h-6v-1h1v-2h1v-2h1zM1020 837h1v2h1v2h1v2h-6v-1h1v-2h1v-2h1zM1031 837h1v2h1v2h1v2h-6v-1h1v-2h1v-2h1zM1041 836h1v2h1v2h1v2h-6v-1h1v-2h1v-2h1zM1051 833h1v2h1v2h1v2h-6v-1h1v-2h1v-2h1zM1061 834h1v2h1v2h1v2h-6v-1h1v-2h1v-2h1zM1071 834h1v2h1v2h1v2h-6v-1h1v-2h1v-2h1zM1082 836h1v2h1v2h1v2h-6v-1h1v-2h1v-2h1zM1092 838h1v2h1v2h1v2h-6v-1h1v-2h1v-2h1zM1102 836h1v2h1v2h1v2h-6v-1h1v-2h1v-2h1zM1112 839h1v2h1v2h1v2h-6v-1h1v-2h1v-2h1zM1122 840h1v2h1v2h1v2h-6v-1h1v-2h1v-2h1zM1133 838h1v2h1v2h1v2h-6v-1h1v-2h1v-2h1zM1143 839h1v2h1v2h1v2h-6v-1h1v-2h1v-2h1z"/>
<g class="ax">
<rect x="127.5" y="99.5" width="1021.0" height="797.0"/>
<line x1="143.5" y1="897.0" x2="143.5" y2="884.0"/>
<line x1="143.5" y1="99.0" x2="143.5" y2="112.0"/>
<line x1="164.5" y1="897.0" x2="164.5" y2="884.0"/>
<line x1="164.5" y1="99.0" x2="164.5" y2="112.0"/>
<line x1="184.5" y1="897.0" x2="184.5" y2="884.0"/>
<line x1="184.5" y1="99.0" x2="184.5" y2="112.0"/>
<line x1="205.5" y1="897.0" x2="205.5" y2="872.0"/>
<line x1="205.5" y1="99.0" x2="205.5" y2="124.0"/>
<line x1="226.5" y1="897.0" x2="226.5" y2="884.0"/>
<line x1="226.5" y1="99.0" x2="226.5" y2="112.0"/>
<line x1="246.5" y1="897.0" x2="246.5" y2="884.0"/>
<line x1="246.5" y1="99.0" x2="246.5" y2="112.0"/>
<line x1="267.5" y1="897.0" x2="267.5" y2="884.0"/>
<line x1="267.5" y1="99.0" x2="267.5" y2="112.0"/>
<line x1="288.5" y1="897.0" x2="288.5" y2="884.0"/>
<line x1="288.5" y1="99.0" x2="288.5" y2="112.0"/>
<line x1="309.5" y1="897.0" x2="309.5" y2="872.0"/>
<line x1="309.5" y1="99.0" x2="309.5" y2="124.0"/>
<line x1="329.5" y1="897.0" x2="329.5" y2="884.0"/>
<line x1="329.5" y1="99.0" x2="329.5" y2="112.0"/>
<line x1="350.5" y1="897.0" x2="350.5" y2="884.0"/>
<line x1="350.5" y1="99.0" x2="350.5" y2="112.0"/>
<line x1="371.5" y1="897.0" x2="371.5" y2="884.0"/>
<line x1="371.5" y1="99.0" x2="371.5" y2="112.0"/>
<line x1="392.5" y1="897.0" x2="392.5" y2="884.0"/>
<line x1="392.5" y1="99.0" x2="392.5" y2="112.0"/>
<line x1="412.5" y1="897.0" x2="412.5" y2="872.0"/>
<line x1="412.5" y1="99.0" x2="412.5" y2="124.0"/>
<line x1="433.5" y1="897.0" x2="433.5" y2="884.0"/>
<line x1="433.5" y1="99.0" x2="433.5" y2="112.0"/>
<line x1="454.5" y1="897.0" x2="454.5" y2="884.0"/>
<line x1="454.5" y1="99.0" x2="454.5" y2="112.0"/>
<line x1="474.5" y1="897.0" x2="474.5" y2="884.0"/>
<line x1="474.5" y1="99.0" x2="474.5" y2="112.0"/>
<line x1="495.5" y1="897.0" x2="495.5" y2="884.0"/>
<line x1="495.5" y1="99.0" x2="495.5" y2="112.0"/>
<line x1="516.5" y1="897.0" x2="516.5" y2="872.0"/>
<line x1="516.5" y1="99.0" x2="516.5" y2="124.0"/>
<line x1="537.5" y1="897.0" x2="537.5" y2="884.0"/>
<line x1="537.5" y1="99.0" x2="537.5" y2="112.0"/>
<line x1="557.5" y1="897.0" x2="557.5" y2="884.0"/>
<line x1="557.5" y1="99.0" x2="557.5" y2="112.0"/>
<line x1="578.5" y1="897.0" x2="578.5" y2="884.0"/>
<line x1="578.5" y1="99.0" x2="578.5" y2="112.0"/>
<line x1="599.5" y1="897.0" x2="599.5" y2="884.0"/>
<line x1="599.5" y1="99.0" x2="599.5" y2="112.0"/>
<line x1="619.5" y1="897.0" x2="619.5" y2="872.0"/>
<line x1="619.5" y1="99.0" x2="619.5" y2="124.0"/>
<line x1="640.5" y1="897.0" x2="640.5" y2="884.0"/>
<line x1="640.5" y1="99.0" x2="640.5" y2="112.0"/>
<line x1="661.5" y1="897.0" x2="661.5" y2="884.0"/>
<line x1="661.5" y1="99.0" x2="661.5" y2="112.0"/>
<line x1="682.5" y1="897.0" x2="682.5" y2="884.0"/>
<line x1="682.5" y1="99.0" x2="682.5" y2="112.0"/>
<line x1="702.5" y1="897.0" x2="702.5" y2="884.0"/>
<line x1="702.5" y1="99.0" x2="702.5" y2="112.0"/>
<line x1="723.5" y1="897.0" x2="723.5" y2="872.0"/>
<line x1="723.5" y1="99.0" x2="723.5" y2="124.0"/>
<line x1="744.5" y1="897.0" x2="744.5" y2="884.0"/>
<line x1="744.5" y1="99.0" x2="744.5" y2="112.0"/>
<line x1="765.5" y1="897.0" x2="765.5" y2="884.0"/>
<line x1="765.5" y1="99.0" x2="765.5" y2="112.0"/>
<line x1="785.5" y1="897.0" x2="785.5" y2="884.0"/>
<line x1="785.5" y1="99.0" x2="785.5" y2="112.0"/>
<line x1="806.5" y1="897.0" x2="806.5" y2="884.0"/>
<line x1="806.5" y1="99.0" x2="806.5" y2="112.0"/>
<line x1="827.5" y1="897.0" x2="827.5" y2="872.0"/>
<line x1="827.5" y1="99.0" x2="827.5" y2="124.0"/>
<line x1="847.5" y1="897.0" x2="847.5" y2="884.0"/>
<line x1="847.5" y1="99.0" x2="847.5" y2="112.0"/>
<line x1="868.5" y1="897.0" x2="868.5" y2="884.0"/>
<line x1="868.5" y1="99.0" x2="868.5" y2="112.0"/>
<line x1="889.5" y1="897.0" x2="889.5" y2="884.0"/>
<line x1="889.5" y1="99.0" x2="889.5" y2="112.0"/>
<line x1="910.5" y1="897.0" x2="910.5" y2="884.0"/>
<line x1="910.5" y1="99.0" x2="910.5" y2="112.0"/>
<line x1="930.5" y1="897.0" x2="930.5" y2="872.0"/>
<line x1="930.5" y1="99.0" x2="930.5" y2="124.0"/>
<line x1="951.5" y1="897.0" x2="951.5" y2="884.0"/>
<line x1="951.5" y1="99.0" x2="951.5" y2="112.0"/>
<line x1="972.5" y1="897.0" x2="972.5" y2="884.0"/>
<line x1="972.5" y1="99.0" x2="972.5" y2="112.0"/>
<line x1="992.5" y1="897.0" x2="992.5" y2="884.0"/>
<line x1="992.5" y1="99.0" x2="992.5" y2="112.0"/>
<line x1="1013.5" y1="897.0" x2="1013.5" y2="884.0"/>
<line x1="1013.5" y1="99.0" x2="1013.5" y2="112.0"/>
<line x1="1034.5" y1="897.0" x2="1034.5" y2="872.0"/>
<line x1="1034.5" y1="99.0" x2="1034.5" y2="124.0"/>
<line x1="1055.5" y1="897.0" x2="1055.5" y2="884.0"/>
<line x1="1055.5" y1="99.0" x2="1055.5" y2="112.0"/>
<line x1="1075.5" y1="897.0" x2="1075.5" y2="884.0"/>
<line x1="1075.5" y1="99.0" x2="1075.5" y2="112.0"/>
<line x1="1096.5" y1="897.0" x2="1096.5" y2="884.0"/>
<line x1="1096.5" y1="99.0" x2="1096.5" y2="112.0"/>
<line x1="1117.5" y1="897.0" x2="1117.5" y2="884.0"/>
<line x1="1117.5" y1="99.0" x2="1117.5" y2="112.0"/>
<line x1="1138.5" y1="897.0" x2="1138.5" y2="872.0"/>
<line x1="1138.5" y1="99.0" x2="1138.5" y2="124.0"/>
<line x1="127.0" y1="896.5" x2="159.0" y2="896.5"/>
<line x1="1149.0" y1="896.5" x2="1117.0" y2="896.5"/>
<line x1="127.0" y1="880.5" x2="143.0" y2="880.5"/>
<line x1="1149.0" y1="880.5" x2="1133.0" y2="880.5"/>
<line x1="127.0" y1="864.5" x2="143.0" y2="864.5"/>
<line x1="1149.0" y1="864.5" x2="1133.0" y2="864.5"/>
<line x1="127.0" y1="848.5" x2="143.0" y2="848.5"/>
<line x1="1149.0" y1="848.5" x2="1133.0" y2="848.5"/>
<line x1="127.0" y1="832.5" x2="143.0" y2="832.5"/>
<line x1="1149.0" y1="832.5" x2="1133.0" y2="832.5"/>
<line x1="127.0" y1="816.5" x2="159.0" y2="816.5"/>
<line x1="1149.0" y1="816.5" x2="1117.0" y2="816.5"/>
<line x1="127.0" y1="800.5" x2="143.0" y2="800.5"/>
<line x1="1149.0" y1="800.5" x2="1133.0" y2="800.5"/>
<line x1="127.0" y1="784.5" x2="143.0" y2="784.5"/>
<line x1="1149.0" y1="784.5" x2="1133.0" y2="784.5"/>
<line x1="127.0" y1="768.5" x2="143.0" y2="768.5"/>
<line x1="1149.0" y1="768.5" x2="1133.0" y2="768.5"/>
<line x1="127.0" y1="752.5" x2="143.0" y2="752.5"/>
<line x1="1149.0" y1="752.5" x2="1133.0" y2="752.5"/>
<line x1="127.0" y1="737.5" x2="159.0" y2="737.5"/>
<line x1="1149.0" y1="737.5" x2="1117.0" y2="737.5"/>
<line x1="127.0" y1="721.5" x2="143.0" y2="721.5"/>
<line x1="1149.0" y1="721.5" x2="1133.0" y2="721.5"/>
<line x1="127.0" y1="705.5" x2="143.0" y2="705.5"/>
<line x1="1149.0" y1="705.5" x2="1133.0" y2="705.5"/>
<line x1="127.0" y1="689.5" x2="143.0" y2="689.5"/>
<line x1="1149.0" y1="689.5" x2="1133.0" y2="689.5"/>
<line x1="127.0" y1="673.5" x2="143.0" y2="673.5"/>
<line x1="1149.0" y1="673.5" x2="1133.0" y2="673.5"/>
<line x1="127.0" y1="657.5" x2="159.0" y2="657.5"/>
<line x1="1149.0" y1="657.5" x2="1117.0" y2="657.5"/>
<line x1="127.0" y1="641.5" x2="143.0" y2="641.5"/>
<line x1="1149.0" y1="641.5" x2="1133.0" y2="641.5"/>
<line x1="127.0" y1="625.5" x2="143.0" y2="625.5"/>
<line x1="1149.0" y1="625.5" x2="1133.0" y2="625.5"/>
<line x1="127.0" y1="609.5" x2="143.0" y2="609.5"/>
<line x1="1149.0" y1="609.5" x2="1133.0" y2="609.5"/>
<line x1="127.0" y1="593.5" x2="143.0" y2="593.5"/>
<line x1="1149.0" y1="593.5" x2="1133.0" y2="593.5"/>
<line x1="127.0" y1="577.5" x2="159.0" y2="577.5"/>
<line x1="1149.0" y1="577.5" x2="1117.0" y2="577.5"/>
<line x1="127.0" y1="561.5" x2="143.0" y2="561.5"/>
<line x1="1149.0" y1="561.5" x2="1133.0" y2="561.5"/>
<line x1="127.0" y1="545.5" x2="143.0" y2="545.5"/>
<line x1="1149.0" y1="545.5" x2="1133.0" y2="545.5"/>
<line x1="127.0" y1="529.5" x2="143.0" y2="529.5"/>
<line x1="1149.0" y1="529.5" x2="1133.0" y2="529.5"/>
<line x1="127.0" y1="513.5" x2="143.0" y2="513.5"/>
<line x1="1149.0" y1="513.5" x2="1133.0" y2="513.5"/>
<line x1="127.0" y1="498.5" x2="159.0" y2="498.5"/>
<line x1="1149.0" y1="498.5" x2="1117.0" y2="498.5"/>
<line x1="127.0" y1="482.5" x2="143.0" y2="482.5"/>
<line x1="1149.0" y1="482.5" x2="1133.0" y2="482.5"/>
<line x1="127.0" y1="466.5" x2="143.0" y2="466.5"/>
<line x1="1149.0" y1="466.5" x2="1133.0" y2="466.5"/>
<line x1="127.0" y1="450.5" x2="143.0" y2="450.5"/>
<line x1="1149.0" y1="450.5" x2="1133.0" y2="450.5"/>
<line x1="127.0" y1="434.5" x2="143.0" y2="434.5"/>
<line x1="1149.0" y1="434.5" x2="1133.0" y2="434.5"/>
<line x1="127.0" y1="418.5" x2="159.0" y2="418.5"/>
<line x1="1149.0" y1="418.5" x2="1117.0" y2="418.5"/>
<line x1="127.0" y1="402.5" x2="143.0" y2="402.5"/>
<line x1="1149.0" y1="402.5" x2="1133.0" y2="402.5"/>
<line x1="127.0" y1="386.5" x2="143.0" y2="386.5"/>
<line x1="1149.0" y1="386.5" x2="1133.0" y2="386.5"/>
<line x1="127.0" y1="370.5" x2="143.0" y2="370.5"/>
<line x1="1149.0" y1="370.5" x2="1133.0" y2="370.5"/>
<line x1="127.0" y1="354.5" x2="143.0" y2="354.5"/>
<line x1="1149.0" y1="354.5" x2="1133.0" y2="354.5"/>
<line x1="127.0" y1="338.5" x2="159.0" y2="338.5"/>
<line x1="1149.0" y1="338.5" x2="1117.0" y2="338.5"/>
<line x1="127.0" y1="322.5" x2="143.0" y2="322.5"/>
<line x1="1149.0" y1="322.5" x2="1133.0" y2="322.5"/>
<line x1="127.0" y1="306.5" x2="143.0" y2="306.5"/>
<line x1="1149.0" y1="306.5" x2="1133.0" y2="306.5"/>
<line x1="127.0" y1="290.5" x2="143.0" y2="290.5"/>
<line x1="1149.0" y1="290.5" x2="1133.0" y2="290.5"/>
<line x1="127.0" y1="274.5" x2="143.0" y2="274.5"/>
<line x1="1149.0" y1="274.5" x2="1133.0" y2="274.5"/>
<line x1="127.0" y1="258.5" x2="159.0" y2="258.5"/>
<line x1="1149.0" y1="258.5" x2="1117.0" y2="258.5"/>
<line x1="127.0" y1="243.5" x2="143.0" y2="243.5"/>
<line x1="1149.0" y1="243.5" x2="1133.0" y2="243.5"/>
<line x1="127.0" y1="227.5" x2="143.0" y2="227.5"/>
<line x1="1149.0" y1="227.5" x2="1133.0" y2="227.5"/>
<line x1="127.0" y1="211.5" x2="143.0" y2="211.5"/>
<line x1="1149.0" y1="211.5" x2="1133.0" y2="211.5"/>
<line x1="127.0" y1="195.5" x2="143.0" y2="195.5"/>
<line x1="1149.0" y1="195.5" x2="1133.0" y2="195.5"/>
<line x1="127.0" y1="179.5" x2="159.0" y2="179.5"/>
<line x1="1149.0" y1="179.5" x2="1117.0" y2="179.5"/>
<line x1="127.0" y1="163.5" x2="143.0" y2="163.5"/>
<line x1="1149.0" y1="163.5" x2="1133.0" y2="163.5"/>
<line x1="127.0" y1="147.5" x2="143.0" y2="147.5"/>
<line x1="1149.0" y1="147.5" x2="1133.0" y2="147.5"/>
<line x1="127.0" y1="131.5" x2="143.0" y2="131.5"/>
<line x1="1149.0" y1="131.5" x2="1133.0" y2="131.5"/>
<line x1="127.0" y1="115.5" x2="143.0" y2="115.5"/>
<line x1="1149.0" y1="115.5" x2="1133.0" y2="115.5"/>
<line x1="127.0" y1="99.5" x2="159.0" y2="99.5"/>
<line x1="1149.0" y1="99.5" x2="1117.0" y2="99.5"/>
</g>
<text class="lab" text-anchor="middle" transform="translate(205.5,934.8) scale(1,1.045)">1000</text>
<text class="lab" text-anchor="middle" transform="translate(309.5,934.8) scale(1,1.045)">2000</text>
<text class="lab" text-anchor="middle" transform="translate(412.5,934.8) scale(1,1.045)">3000</text>
<text class="lab" text-anchor="middle" transform="translate(516.5,934.8) scale(1,1.045)">4000</text>
<text class="lab" text-anchor="middle" transform="translate(619.5,934.8) scale(1,1.045)">5000</text>
<text class="lab" text-anchor="middle" transform="translate(723.5,934.8) scale(1,1.045)">6000</text>
<text class="lab" text-anchor="middle" transform="translate(827.5,934.8) scale(1,1.045)">7000</text>
<text class="lab" text-anchor="middle" transform="translate(930.5,934.8) scale(1,1.045)">8000</text>
<text class="lab" text-anchor="middle" transform="translate(1034.5,934.8) scale(1,1.045)">9000</text>
<text class="lab" text-anchor="middle" transform="translate(1138.5,934.8) scale(1,1.045)">10000</text>
<text class="laby" text-anchor="end" transform="translate(121.4,906.9) scale(1,1.045)">0</text>
<text class="laby" text-anchor="end" transform="translate(121.4,826.9) scale(1,1.045)">10</text>
<text class="laby" text-anchor="end" transform="translate(121.4,747.9) scale(1,1.045)">20</text>
<text class="laby" text-anchor="end" transform="translate(121.4,667.9) scale(1,1.045)">30</text>
<text class="laby" text-anchor="end" transform="translate(121.4,587.9) scale(1,1.045)">40</text>
<text class="laby" text-anchor="end" transform="translate(121.4,508.9) scale(1,1.045)">50</text>
<text class="laby" text-anchor="end" transform="translate(121.4,428.9) scale(1,1.045)">60</text>
<text class="laby" text-anchor="end" transform="translate(121.4,348.9) scale(1,1.045)">70</text>
<text class="laby" text-anchor="end" transform="translate(121.4,268.9) scale(1,1.045)">80</text>
<text class="laby" text-anchor="end" transform="translate(121.4,189.9) scale(1,1.045)">90</text>
<text class="laby" text-anchor="end" transform="translate(121.4,109.9) scale(1,1.045)">100</text>
<text class="ttl" text-anchor="end" transform="translate(1148.5,971.2) scale(1,1.04)">Long Muon Transverse Momentum / MeV/c</text>
<text class="ttl2" text-anchor="end" transform="translate(47.4,99.3) rotate(-90) scale(1,1.04)">Efficiency / %</text>
<rect x="1026" y="105" width="126" height="48" fill="#000"/>
<rect x="1020.5" y="99.5" width="128" height="50" fill="#f2f2f2" stroke="#000" stroke-width="1" shape-rendering="crispEdges"/>
<circle class="bm" cx="1027.6" cy="112.3" r="3.6"/>
<path class="rm" shape-rendering="crispEdges" d="M1027 133h1v2h1v2h1v2h-6v-1h1v-2h1v-2h1z"/>
<text class="leg" transform="translate(1032.8,116.6) scale(1,1.06)">True Muon</text>
<text class="leg" transform="translate(1032.8,141.7) scale(1,1.06)">Fake Muon</text>
</svg></body></html>
